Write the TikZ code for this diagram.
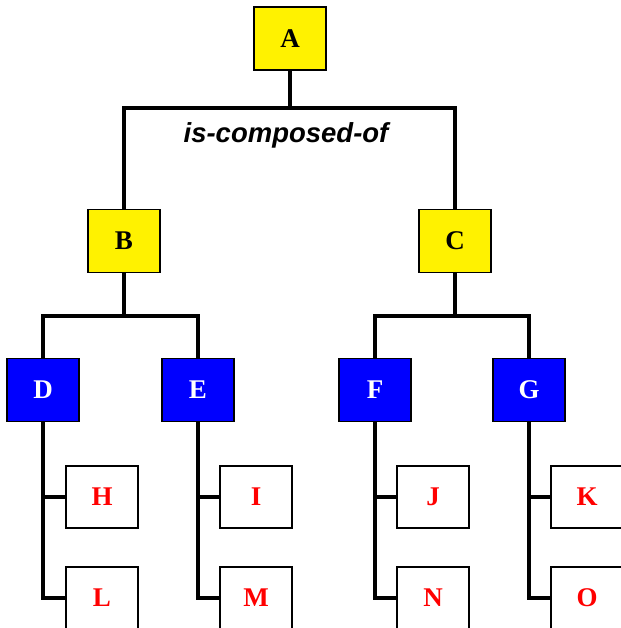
\documentclass[tikz,border=0pt]{standalone}
\usepackage{fontspec}
\setmainfont{Liberation Serif}
\setsansfont{Liberation Sans}
\begin{document}
\begin{tikzpicture}[x=1pt,y=-1pt,
  box/.style={draw=black,line width=1.6pt,minimum width=72pt,minimum height=63pt,inner sep=0pt,
    font=\fontsize{27}{30}\selectfont\bfseries},
  topbox/.style={box,fill=yellow,text=black},
  midbox/.style={box,fill=blue,text=white},
  leafbox/.style={box,fill=white,text=red,minimum height=62pt},
  link/.style={line width=4.3pt,draw=black}]
\useasboundingbox (0,0) rectangle (620,628);
\coordinate (busA) at (290,108);
\coordinate (busB) at (124,316);
\coordinate (busC) at (455,316);
\node[topbox] (A) at (290,38.5) {A};
\node[topbox] (B) at (124,241) {B};
\node[topbox] (C) at (455,241) {C};
\node[midbox] (D) at (43,390) {D};
\node[midbox] (E) at (198,390) {E};
\node[midbox] (F) at (375,390) {F};
\node[midbox] (G) at (529,390) {G};
\node[leafbox] (H) at (102,497) {H};
\node[leafbox] (I) at (256,497) {I};
\node[leafbox] (J) at (433,497) {J};
\node[leafbox] (K) at (587,497) {K};
\node[leafbox] (L) at (102,598) {L};
\node[leafbox] (M) at (256,598) {M};
\node[leafbox] (N) at (433,598) {N};
\node[leafbox] (O) at (587,598) {O};
\draw[link] (A.south) -- (busA);
\draw[link] (busA) -| (B.north);
\draw[link] (busA) -| (C.north);
\draw[link] (B.south) -- (busB);
\draw[link] (busB) -| (D.north);
\draw[link] (busB) -| (E.north);
\draw[link] (C.south) -- (busC);
\draw[link] (busC) -| (F.north);
\draw[link] (busC) -| (G.north);
\draw[link] (D.south) |- (H.west);
\draw[link] (D.south) |- (L.west);
\draw[link] (E.south) |- (I.west);
\draw[link] (E.south) |- (M.west);
\draw[link] (F.south) |- (J.west);
\draw[link] (F.south) |- (N.west);
\draw[link] (G.south) |- (K.west);
\draw[link] (G.south) |- (O.west);
\node[anchor=base,font=\fontsize{27.5}{30}\selectfont\sffamily\bfseries\itshape] (lab) at (286,143) {is-composed-of};
\end{tikzpicture}
\end{document}
